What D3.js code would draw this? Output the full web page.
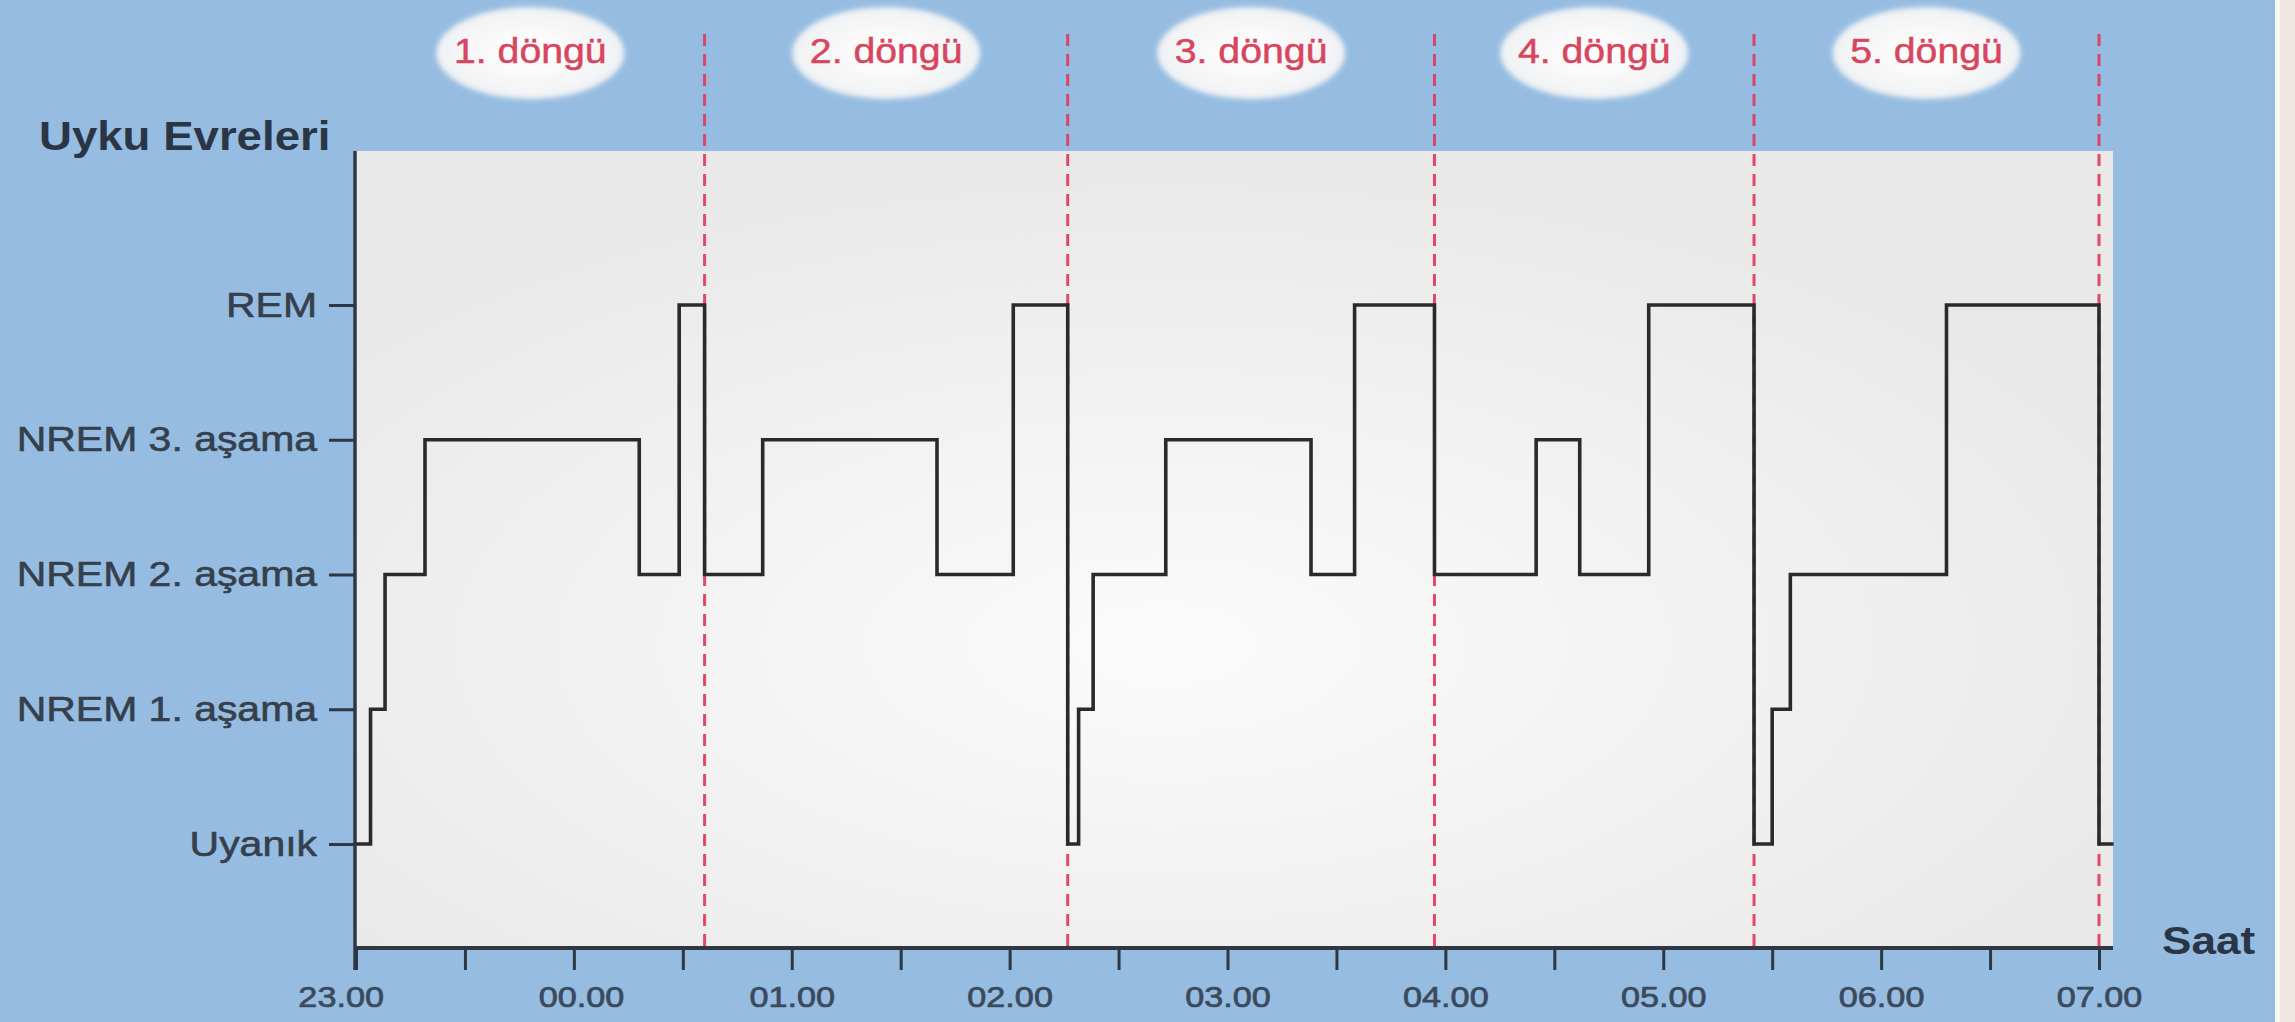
<!DOCTYPE html>
<html>
<head>
<meta charset="utf-8">
<script src="https://cdn.jsdelivr.net/npm/d3@7"></script>
<style>
  body { margin: 0; overflow: hidden; background: #ece8e1; }
  svg { display: block; }
</style>
</head>
<body>
<svg id="chart" width="2295" height="1022"></svg>
<script>
// ---------- DATA ----------
const stageLevels = ["Uyanık", "NREM 1. aşama", "NREM 2. aşama", "NREM 3. aşama", "REM"];
const stageTimes = ["23:00","23:04","23:08","23:19","00:18","00:29","00:36","00:52","01:40","02:01",
                    "02:16","02:19","02:23","02:43","03:23","03:35","03:57","04:25","04:37","04:56",
                    "05:25","05:30","05:35","06:18","07:00","07:04"];
const stageValues = ["Uyanık","NREM 1. aşama","NREM 2. aşama","NREM 3. aşama","NREM 2. aşama","REM",
                     "NREM 2. aşama","NREM 3. aşama","NREM 2. aşama","REM",
                     "Uyanık","NREM 1. aşama","NREM 2. aşama","NREM 3. aşama","NREM 2. aşama","REM",
                     "NREM 2. aşama","NREM 3. aşama","NREM 2. aşama","REM",
                     "Uyanık","NREM 1. aşama","NREM 2. aşama","REM","Uyanık","Uyanık"];
const cycleStarts = ["23:00","00:36","02:16","03:57","05:25"];
const cycleEnds   = ["00:36","02:16","03:57","05:25","07:00"];
const cycleLabels = ["1. döngü","2. döngü","3. döngü","4. döngü","5. döngü"];
const hourLabels  = ["23.00","00.00","01.00","02.00","03.00","04.00","05.00","06.00","07.00"];
const yTitle = "Uyku Evreleri";
const xTitle = "Saat";

// ---------- HELPERS ----------
function t(s) {
  const [h, m] = s.split(":").map(Number);
  return new Date(2020, 0, h >= 12 ? 1 : 2, h, m);
}
const FONT = "'Liberation Sans', Arial, Helvetica, sans-serif";

const svg = d3.select("#chart");
const W = 2295, H = 1022;
const plot = { left: 356, right: 2113, top: 151, bottom: 948 };

// ---------- SCALES ----------
const x = d3.scaleTime().domain([t("23:00"), t("07:00")]).range([356, 2099]);
const y = d3.scalePoint().domain(stageLevels).range([844, 305]);

// ---------- DEFS ----------
const defs = svg.append("defs");
const rg = defs.append("radialGradient").attr("id", "plotBg")
  .attr("cx", "0.46").attr("cy", "0.62").attr("r", "0.6");
rg.append("stop").attr("offset", "0").attr("stop-color", "#fbfbfb");
rg.append("stop").attr("offset", "0.45").attr("stop-color", "#f3f3f3");
rg.append("stop").attr("offset", "1").attr("stop-color", "#e9e9e9");

const bg = defs.append("radialGradient").attr("id", "bubbleBg");
bg.append("stop").attr("offset", "0").attr("stop-color", "#ffffff");
bg.append("stop").attr("offset", "0.7").attr("stop-color", "#f6f6f6");
bg.append("stop").attr("offset", "1").attr("stop-color", "#eef1f4");
const blur = defs.append("filter").attr("id", "soft").attr("x", "-20%").attr("y", "-20%")
  .attr("width", "140%").attr("height", "140%");
blur.append("feGaussianBlur").attr("stdDeviation", 2.5);

// ---------- BACKGROUND ----------
svg.append("rect").attr("x", 0).attr("y", 0).attr("width", W).attr("height", H).attr("fill", "#ece8e1");
svg.append("rect").attr("x", 0).attr("y", 0).attr("width", 2280).attr("height", H).attr("fill", "#f7f7f5");
svg.append("rect").attr("x", 0).attr("y", 0).attr("width", 2275).attr("height", H).attr("fill", "#96bde1");

svg.append("rect")
  .attr("x", plot.left).attr("y", plot.top)
  .attr("width", plot.right - plot.left).attr("height", plot.bottom - plot.top)
  .attr("fill", "url(#plotBg)");

// ---------- CYCLE BUBBLES ----------
const cycles = cycleLabels.map((label, i) => ({
  label,
  mid: new Date((t(cycleStarts[i]).getTime() + t(cycleEnds[i]).getTime()) / 2)
}));
const bub = svg.append("g").selectAll("g").data(cycles).join("g")
  .attr("transform", d => `translate(${x(d.mid)},53)`);
bub.append("ellipse").attr("rx", 94).attr("ry", 46)
  .attr("fill", "url(#bubbleBg)").attr("filter", "url(#soft)");
bub.append("text")
  .attr("transform", "translate(0,10) scale(1.09,1)")
  .attr("text-anchor", "middle")
  .attr("font-family", FONT).attr("font-size", 36)
  .attr("fill", "#d8455f").attr("stroke", "#d8455f").attr("stroke-width", 0.5)
  .text(d => d.label);

// ---------- CYCLE DIVIDERS ----------
svg.append("g").selectAll("line").data(cycleEnds).join("line")
  .attr("x1", d => x(t(d))).attr("x2", d => x(t(d)))
  .attr("y1", 34).attr("y2", plot.bottom)
  .attr("stroke", "#e03c5c").attr("stroke-width", 3)
  .attr("stroke-dasharray", "12,8").attr("opacity", 0.92);

// ---------- HYPNOGRAM ----------
const pts = stageTimes.map((s, i) => ({ t: t(s), s: stageValues[i] }));
const line = d3.line().x(d => x(d.t)).y(d => y(d.s)).curve(d3.curveStepAfter);
svg.append("path").datum(pts)
  .attr("d", line)
  .attr("fill", "none").attr("stroke", "#2a2a2a").attr("stroke-width", 3.6)
  .attr("stroke-linejoin", "miter");

// ---------- AXES ----------
const axisColor = "#2f3742";
// x axis
const tickVals = d3.timeMinute.every(30).range(t("23:00"), d3.timeMinute.offset(t("07:00"), 1));
const xAxis = d3.axisBottom(x).tickValues(tickVals).tickSize(22).tickSizeOuter(0).tickPadding(16)
  .tickFormat((d, i) => (i % 2 === 0 ? hourLabels[i / 2] : ""));
const gx = svg.append("g").attr("transform", `translate(0,${plot.bottom})`).call(xAxis);
gx.select(".domain").remove();
gx.selectAll(".tick line").attr("stroke", axisColor).attr("stroke-width", 3);
gx.selectAll(".tick text")
  .attr("font-family", FONT).attr("font-size", 29).attr("fill", "#3b4a5c")
  .attr("stroke", "#3b4a5c").attr("stroke-width", 0.7)
  .attr("transform", "scale(1.18,1)")
  .attr("dx", (d, i) => (i === 0 ? -13 : i === 2 ? 6 : 0));

// x axis line
svg.append("line").attr("x1", plot.left - 1.5).attr("x2", plot.right)
  .attr("y1", plot.bottom).attr("y2", plot.bottom)
  .attr("stroke", axisColor).attr("stroke-width", 4);

// y axis
const yAxis = d3.axisLeft(y).tickSize(26).tickPadding(11).tickSizeOuter(0);
const gy = svg.append("g").attr("transform", `translate(${plot.left - 1},0)`).call(yAxis);
gy.select(".domain").remove();
gy.selectAll(".tick line").attr("stroke", axisColor).attr("stroke-width", 3);
gy.selectAll(".tick text")
  .attr("font-family", FONT).attr("font-size", 35).attr("fill", "#35404c")
  .attr("stroke", "#35404c").attr("stroke-width", 0.6)
  .attr("transform", "scale(1.17,1)")
  .attr("x", -38 / 1.17);

svg.append("line").attr("x1", plot.left - 1).attr("x2", plot.left - 1)
  .attr("y1", plot.top).attr("y2", plot.bottom + 22)
  .attr("stroke", axisColor).attr("stroke-width", 3.5);

// ---------- TITLES ----------
svg.append("text")
  .attr("transform", "translate(39,150) scale(1.14,1)")
  .attr("font-family", FONT).attr("font-weight", "bold").attr("font-size", 40)
  .attr("fill", "#2a3645").text(yTitle);

svg.append("text")
  .attr("transform", "translate(2162,954) scale(1.16,1)")
  .attr("font-family", FONT).attr("font-weight", "bold").attr("font-size", 38)
  .attr("fill", "#2a3645").text(xTitle);
</script>
</body>
</html>
